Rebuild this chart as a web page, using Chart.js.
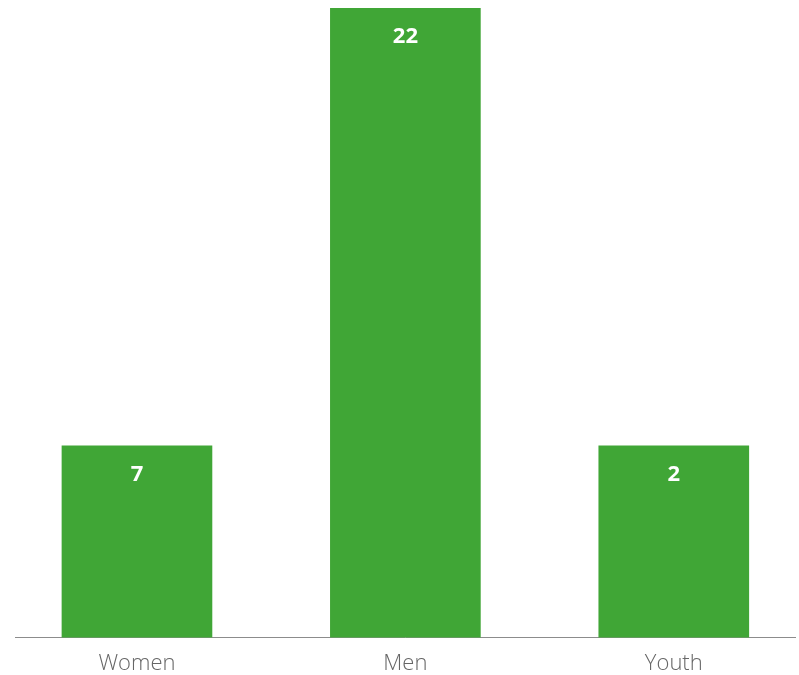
<!DOCTYPE html>
<html>
<head>
<meta charset="utf-8">
<script src="https://cdn.jsdelivr.net/npm/chart.js@4/dist/chart.umd.min.js"></script>
<style>
  html, body { margin: 0; padding: 0; background: #ffffff; overflow: hidden; }
  canvas { display: block; }
</style>
</head>
<body>
<canvas id="c" width="799" height="675"></canvas>
<script>
// Data
const categories = ['Women', 'Men', 'Youth'];
const barHeights = [6.7, 22, 6.7];      // bar heights as drawn (Women and Youth drawn equal)
const valueLabels = ['7', '22', '2'];   // numbers printed inside the bars

const GREEN = '#40a636';

const insideLabels = {
  id: 'insideLabels',
  afterDatasetsDraw(chart) {
    const ctx = chart.ctx;
    const meta = chart.getDatasetMeta(0);
    ctx.save();
    ctx.fillStyle = '#ffffff';
    ctx.font = 'bold 22px "Open Sans", sans-serif';
    ctx.textAlign = 'center';
    ctx.textBaseline = 'middle';
    meta.data.forEach((bar, i) => {
      ctx.fillText(valueLabels[i], bar.x, bar.y + 29);
    });
    ctx.restore();
  }
};

new Chart(document.getElementById('c'), {
  type: 'bar',
  data: {
    datasets: [{
      data: barHeights.map((v, i) => ({ x: i, y: v })),
      backgroundColor: GREEN,
      borderWidth: 0,
      barThickness: 150
    }]
  },
  options: {
    responsive: false,
    animation: false,
    layout: { padding: { left: 15, right: 4, top: 8, bottom: -15 } },
    plugins: { legend: { display: false }, tooltip: { enabled: false } },
    scales: {
      x: {
        type: 'linear',
        offset: false,
        min: -0.4544,
        max: 2.4516,
        grid: { display: false, drawTicks: false },
        border: { display: true, color: '#8c8c8c', width: 1 },
        ticks: {
          stepSize: 1,
          includeBounds: false,
          autoSkip: false,
          maxRotation: 0,
          padding: 13,
          color: '#666666',
          font: { family: '"Open Sans", sans-serif', size: 22, weight: 300 },
          callback: (v) => Number.isInteger(v) ? (categories[v] ?? '') : ''
        }
      },
      y: {
        display: false,
        min: 0,
        max: 22
      }
    }
  },
  plugins: [insideLabels]
});
</script>
</body>
</html>
